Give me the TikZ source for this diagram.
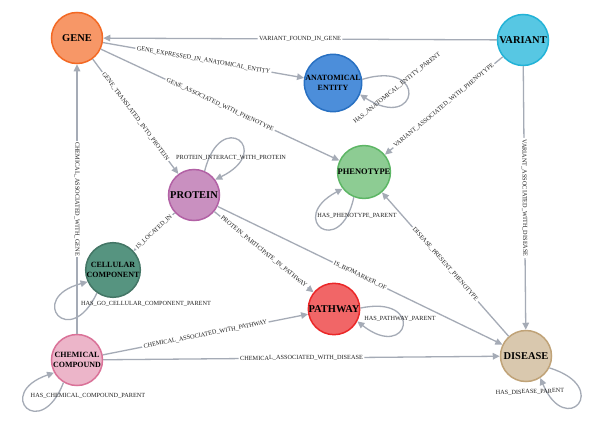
\documentclass[tikz,border=0pt]{standalone}
\usepackage{fontspec}
\setmainfont{Liberation Serif}
\usetikzlibrary{arrows.meta}
\definecolor{geneF}{HTML}{F79767}\definecolor{geneD}{HTML}{F36924}
\definecolor{varF}{HTML}{57C7E3}\definecolor{varD}{HTML}{23B3D7}
\definecolor{anatF}{HTML}{4C8EDA}\definecolor{anatD}{HTML}{2870C2}
\definecolor{phenF}{HTML}{8DCC93}\definecolor{phenD}{HTML}{5DB665}
\definecolor{protF}{HTML}{C990C0}\definecolor{protD}{HTML}{B261A5}
\definecolor{cellF}{HTML}{569480}\definecolor{cellD}{HTML}{447666}
\definecolor{chemF}{HTML}{ECB5C9}\definecolor{chemD}{HTML}{DA7298}
\definecolor{pathF}{HTML}{F16667}\definecolor{pathD}{HTML}{EB2728}
\definecolor{disF}{HTML}{D9C8AE}\definecolor{disD}{HTML}{C0A378}
\definecolor{edgec}{HTML}{A5ABB6}
\definecolor{labc}{HTML}{222222}
\begin{document}
\begin{tikzpicture}[x=1bp,y=1bp,
  ent/.style={circle, minimum size=51bp, inner sep=0pt, line width=1.5bp,
    font=\bfseries\fontsize{10.5}{11}\selectfont, align=center, text=black},
  twoline/.style={font=\bfseries\fontsize{8}{9.5}\selectfont},
  edge/.style={draw=edgec, line width=1.3bp, -{Triangle[length=7bp,width=6.5bp]}},
  elab/.style={font=\fontsize{6.3}{7}\selectfont, fill=white, inner sep=1.5bp, sloped, text=labc},
  llab/.style={font=\fontsize{6.3}{7}\selectfont, inner sep=0pt, text=labc}]
\useasboundingbox[fill=white] (0,0) rectangle (595,426);

% nodes
\node[ent, fill=geneF, draw=geneD] (gene) at (77,388) {GENE};
\node[ent, fill=varF, draw=varD] (variant) at (523,386) {VARIANT};
\node[ent, twoline, fill=anatF, draw=anatD] (anat) at (333,343) {ANATOMICAL\\ENTITY};
\node[ent, fill=phenF, draw=phenD, font=\bfseries\fontsize{8.5}{10}\selectfont] (pheno) at (364,254) {PHENOTYPE};
\node[ent, fill=protF, draw=protD] (protein) at (194,231) {PROTEIN};
\node[ent, twoline, fill=cellF, draw=cellD] (cell) at (113,156) {CELLULAR\\COMPONENT};
\node[ent, twoline, fill=chemF, draw=chemD] (chem) at (77,66) {CHEMICAL\\COMPOUND};
\node[ent, fill=pathF, draw=pathD] (path) at (334,117) {PATHWAY};
\node[ent, fill=disF, draw=disD] (disease) at (526,70) {DISEASE};

% straight relationships
\draw[edge] (variant) -- node[elab]{VARIANT\_FOUND\_IN\_GENE} (gene);
\draw[edge] (gene) -- node[elab]{GENE\_EXPRESSED\_IN\_ANATOMICAL\_ENTITY} (anat);
\draw[edge] (gene) -- node[elab]{GENE\_ASSOCIATED\_WITH\_PHENOTYPE} (pheno);
\draw[edge] (gene) -- node[elab]{GENE\_TRANSLATED\_INTO\_PROTEIN} (protein);
\draw[edge] (variant) -- node[elab]{VARIANT\_ASSOCIATED\_WITH\_PHENOTYPE} (pheno);
\draw[edge] (variant) -- node[elab]{VARIANT\_ASSOCIATED\_WITH\_DISEASE} (disease);
\draw[edge] (disease) -- node[elab]{DISEASE\_PRESENT\_PHENOTYPE} (pheno);
\draw[edge] (protein) -- node[elab]{IS\_BIOMARKER\_OF} (disease);
\draw[edge] (protein) -- node[elab]{PROTEIN\_PARTICIPATE\_IN\_PATHWAY} (path);
\draw[edge] (protein) -- node[elab]{IS\_LOCATED\_IN} (cell);
\draw[edge] (chem) -- node[elab, sloped=false, rotate=-90]{CHEMICAL\_ASSOCIATED\_WITH\_GENE} (gene);
\draw[edge] (chem) -- node[elab]{CHEMICAL\_ASSOCIATED\_WITH\_PATHWAY} (path);
\draw[edge] (chem) -- node[elab]{CHEMICAL\_ASSOCIATED\_WITH\_DISEASE} (disease);

% self loops
\draw[edge] (anat.7) .. controls +(17:70) and +(-33:70) .. (anat.-23);
\draw[edge] (protein.66) .. controls +(76:66) and +(26:66) .. (protein.36);
\draw[edge] (pheno.-112) .. controls +(-102:64) and +(-152:64) .. (pheno.-142);
\draw[edge] (cell.-125) .. controls +(-115:64) and +(-165:64) .. (cell.-155);
\draw[edge] (chem.-121) .. controls +(-111:64) and +(-161:64) .. (chem.-151);
\draw[edge] (path.2) .. controls +(12:66) and +(-38:66) .. (path.-28);
\draw[edge] (disease.-27) .. controls +(-17:66) and +(-67:66) .. (disease.-57);

% loop labels
\node[llab] (lprot) at (231,268) {PROTEIN\_INTERACT\_WITH\_PROTEIN};
\node[llab, rotate=39] (lanat) at (397,338) {HAS\_ANATOMICAL\_ENTITY\_PARENT};
\node[llab] (lphen) at (357,210) {HAS\_PHENOTYPE\_PARENT};
\node[llab] (lcell) at (146,122) {HAS\_GO\_CELLULAR\_COMPONENT\_PARENT};
\node[llab] (lchem) at (88,30) {HAS\_CHEMICAL\_COMPOUND\_PARENT};
\node[llab] (lpath) at (400,107) {HAS\_PATHWAY\_PARENT};
\node[llab, rotate=2] (ldis) at (530,34) {HAS\_DISEASE\_PARENT};
\end{tikzpicture}
\end{document}
